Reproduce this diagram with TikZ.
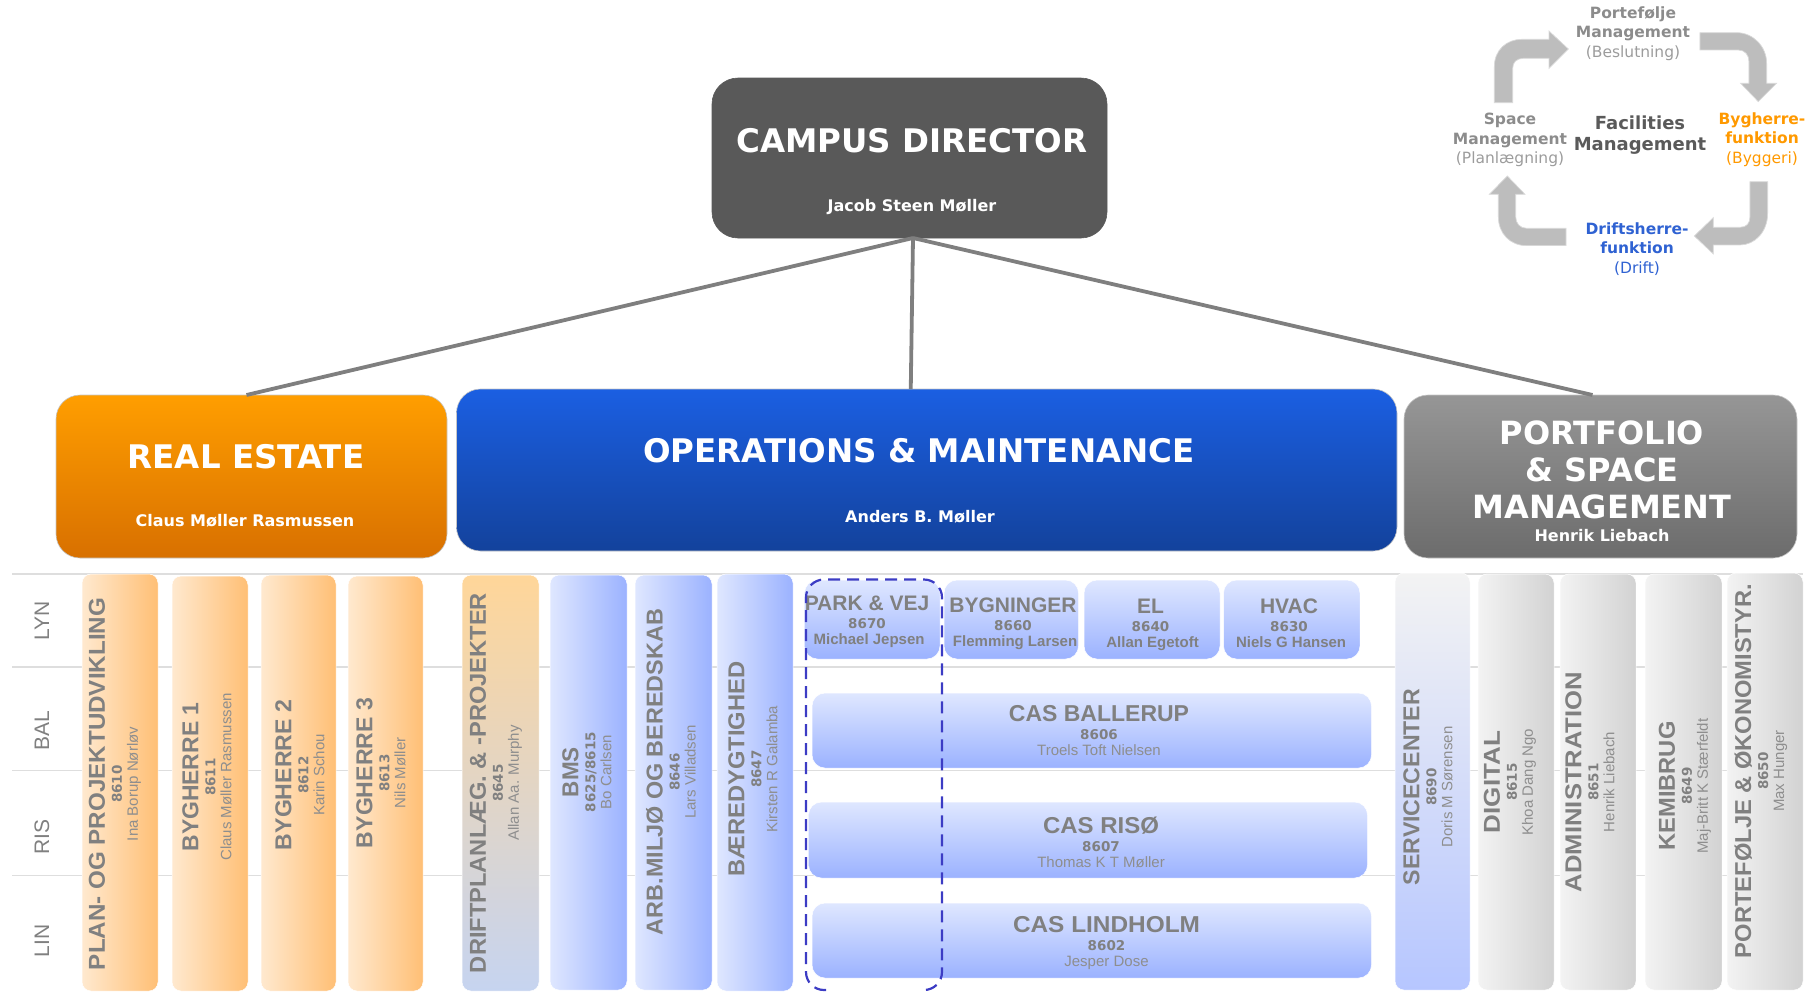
\documentclass[tikz,border=0pt]{standalone}
\usepackage{fontspec}
\usepackage{graphicx}
\usetikzlibrary{calc}
\setmainfont{Liberation Sans}
\newfontfamily\dv{DejaVu Sans}
\definecolor{txtgray}{HTML}{808080}
\definecolor{namegray}{HTML}{8E8E8E}
\definecolor{rulegray}{HTML}{DEDEDE}
\definecolor{linkgray}{HTML}{7F7F7F}
\definecolor{arrowgray}{HTML}{BDBDBD}
\definecolor{arrowedge}{HTML}{DADADA}
\definecolor{dashblue}{HTML}{3C3CC4}
\definecolor{oL}{HTML}{FFE9CF}\definecolor{oR}{HTML}{FFBF75}
\definecolor{bL}{HTML}{DFE7FF}\definecolor{bR}{HTML}{9BB2FF}
\definecolor{gL}{HTML}{F3F3F3}\definecolor{gR}{HTML}{D2D2D2}
\definecolor{orangeT}{HTML}{FF9E00}\definecolor{orangeB}{HTML}{D87000}
\definecolor{blueT}{HTML}{1B5FE2}\definecolor{blueB}{HTML}{13429C}
\definecolor{grayT}{HTML}{969696}\definecolor{grayB}{HTML}{6C6C6C}
\definecolor{campus}{HTML}{595959}
\definecolor{facil}{HTML}{5A5A5A}
\definecolor{cycgray}{HTML}{8C8C8C}
\definecolor{cycgrayl}{HTML}{9C9C9C}
\definecolor{cycorange}{HTML}{FF9900}
\definecolor{cycblue}{HTML}{2F62D2}
\definecolor{driftT}{HTML}{FFD699}
\definecolor{driftB}{HTML}{C6D4F0}
\definecolor{servM}{HTML}{E4E6F2}
\definecolor{servB}{HTML}{B6C6FF}
\tikzset{
  bigbox/.style={rectangle,rounded corners=24pt,draw=gray!45,line width=0.6pt},
  campusbox/.style={bigbox,fill=campus,draw=campus,rounded corners=26pt},
  realbox/.style={bigbox,top color=orangeT,bottom color=orangeB},
  opsbox/.style={bigbox,top color=blueT,bottom color=blueB},
  portbox/.style={bigbox,top color=grayT,bottom color=grayB},
  colbase/.style={rectangle,rounded corners=9pt,draw=white,line width=0.5pt},
  orangecol/.style={colbase,left color=oL,right color=oR},
  bluecol/.style={colbase,left color=bL,right color=bR},
  graycol/.style={colbase,left color=gL,right color=gR},
  driftcol/.style={colbase,top color=driftT,bottom color=driftB},
  servicecol/.style={colbase,top color=gL,middle color=servM,bottom color=servB},
  tilebox/.style={rectangle,rounded corners=13pt,draw=white,line width=0.5pt,top color=bL,bottom color=bR},
  link/.style={draw=linkgray,line width=3.8pt},
  tworule/.style={draw=rulegray,line width=1.6pt},
  bigtitle/.style={text=white,font=\dv\bfseries\fontsize{32.5}{37}\selectfont,align=center,inner sep=0pt},
  bigsub/.style={text=white,font=\dv\bfseries\fontsize{16}{18}\selectfont,inner sep=0pt},
  rowlabel/.style={rotate=90,text=txtgray,font=\fontsize{21}{22}\selectfont,inner sep=0pt},
  coltext/.style={rotate=90,align=center,text=txtgray,inner sep=0pt,font=\fontsize{15}{16}\selectfont},
  tiletext/.style={align=center,text=txtgray,inner sep=0pt,font=\fontsize{15}{16}\selectfont},
  cyctext/.style={align=center,inner sep=0pt,font=\dv\fontsize{15.5}{19.5}\selectfont},
  cycarrow/.style={fill=arrowgray,draw=arrowedge,line width=0.7pt},
}
\newcommand\boxnode[6]{%
  \pgfmathsetmacro\bw{#5-#3}\pgfmathsetmacro\bh{#6-#4}%
  \pgfmathsetmacro\bx{(#3+#5)/2}\pgfmathsetmacro\by{(#4+#6)/2}%
  \node[#1,minimum width=\bw pt,minimum height=\bh pt,inner sep=0pt,outer sep=0pt] (#2) at (\bx,\by) {};}
\newcommand\codefont{\dv\fontsize{13.5}{16}\selectfont\bfseries}
% name, x, y, title width, title, code, person
\newcommand\mycoltext[7]{%
  \node[coltext] (#1) at (#2,#3) {\resizebox{#4pt}{\height}{\fontsize{23}{24}\selectfont\bfseries #5}\\[1pt]%
    {\codefont #6}\\[0pt]%
    {\color{namegray}#7}};}
% name, x, y, title size, title, code, person, person style
\newcommand\mytiletext[8]{%
  \node[tiletext] (#1) at (#2,#3) {{\fontsize{#4}{#4}\selectfont\bfseries #5}\\[2pt]%
    {\codefont #6}\\[0pt]%
    {#8 #7}};}
\begin{document}
\begin{tikzpicture}[x=1pt,y=-1pt]
\useasboundingbox (0,0) rectangle (1812,991);
% rules
\draw[tworule] (12,574) -- (1803,574);
\draw[tworule] (12,667) -- (1790,667);
\draw[tworule] (12,770.5) -- (1790,770.5);
\draw[tworule] (12,875.5) -- (1790,875.5);
% main boxes and links
\boxnode{campusbox}{cd}{712}{78}{1107}{238}
\boxnode{realbox}{re}{56}{395}{447}{558}
\boxnode{opsbox}{om}{456.5}{389}{1397}{551}
\boxnode{portbox}{ps}{1404}{395}{1797}{558}
\node[bigtitle] (cdt) at (912,141) {CAMPUS DIRECTOR};
\node[bigsub] (cds) at (912,207) {Jacob Steen Møller};
\node[bigtitle] (ret) at (246,457) {REAL ESTATE};
\node[bigsub] (res) at (245,521) {Claus Møller Rasmussen};
\node[bigtitle] (omt) at (919,451) {OPERATIONS \& MAINTENANCE};
\node[bigsub] (oms) at (920,517) {Anders B. Møller};
\node[bigtitle,font=\dv\bfseries\fontsize{32}{37}\selectfont] (pst) at (1602,470) {PORTFOLIO\\\& SPACE\\MANAGEMENT};
\node[bigsub] (pss) at (1602,536) {Henrik Liebach};
\draw[link] ($(cd.south)+(3.5,0)$) -- ($(re.north)+(-5,0)$);
\draw[link] ($(cd.south)+(3.5,0)$) -- ($(om.north)+(-16,0)$);
\draw[link] ($(cd.south)+(3.5,0)$) -- ($(ps.north)+(-8,0)$);
% row labels
\node[rowlabel] (lyn) at (42,621) {LYN};
\node[rowlabel] (bal) at (42,731) {BAL};
\node[rowlabel] (ris) at (42,837) {RIS};
\node[rowlabel] (lin) at (42,941) {LIN};
% columns
\boxnode{orangecol}{c1}{82}{574}{158}{991}
\boxnode{orangecol}{c2}{172}{576}{248}{991}
\boxnode{orangecol}{c3}{261}{575}{336}{991}
\boxnode{orangecol}{c4}{348}{576}{423}{991}
\boxnode{driftcol}{c5}{462}{575}{539}{991}
\boxnode{bluecol}{c6}{550}{575}{627}{990}
\boxnode{bluecol}{c7}{635}{575}{712}{990}
\boxnode{bluecol}{c8}{717}{574}{793}{991}
\boxnode{servicecol}{c9}{1395}{573}{1470}{990}
\boxnode{graycol}{c10}{1478}{574}{1554}{990}
\boxnode{graycol}{c11}{1560}{574}{1636}{990}
\boxnode{graycol}{c12}{1645}{574}{1722}{990}
\boxnode{graycol}{c13}{1727}{573}{1803}{990}
\mycoltext{t1}{115}{784}{372}{PLAN- OG PROJEKTUDVIKLING}{8610}{Ina Borup Nørløv}
\mycoltext{t2}{207}{777}{149}{BYGHERRE 1}{8611}{Claus Møller Rasmussen}
\mycoltext{t3}{300}{775}{150}{BYGHERRE 2}{8612}{Karin Schou}
\mycoltext{t4}{381}{773}{150}{BYGHERRE 3}{8613}{Nils Møller}
\mycoltext{t5}{496}{783}{380}{DRIFTPLANLÆG. \& -PROJEKTER}{8645}{Allan Aa. Murphy}
\mycoltext{t6}{587}{772}{50}{BMS}{8625/8615}{Bo Carlsen}
\mycoltext{t7}{671}{772}{326}{ARB.MILJØ OG BEREDSKAB}{8646}{Lars Villadsen}
\mycoltext{t8}{753}{769}{215}{BÆREDYGTIGHED}{8647}{Kirsten R Galamba}
\mycoltext{t9}{1428}{787}{196}{SERVICECENTER}{8690}{Doris M Sørensen}
\mycoltext{t10}{1510}{782}{102}{DIGITAL}{8615}{Khoa Dang Ngo}
\mycoltext{t11}{1590}{782}{220}{ADMINISTRATION}{8651}{Henrik Liebach}
\mycoltext{t12}{1685}{786}{129}{KEMIBRUG}{8649}{Maj-Britt K Stærfeldt}
\mycoltext{t13}{1761}{771}{374}{PORTEFØLJE \& ØKONOMISTYR.}{8650}{Max Hunger}
% tiles
\boxnode{tilebox}{p1}{804.5}{580}{940}{659}
\boxnode{tilebox}{p2}{944}{580}{1078.5}{659}
\boxnode{tilebox}{p3}{1084}{580}{1220}{659}
\boxnode{tilebox}{p4}{1223.5}{580}{1360}{659}
\boxnode{tilebox}{cas1}{812}{693}{1371.5}{768}
\boxnode{tilebox}{cas2}{808.5}{802}{1367.5}{878}
\boxnode{tilebox}{cas3}{812}{903}{1371.5}{978}
\mytiletext{tp1}{867}{621.5}{21}{PARK \& VEJ}{8670}{Michael Jepsen}{\bfseries}
\mytiletext{tp2}{1013}{623.5}{21}{BYGNINGER}{8660}{Flemming Larsen}{\bfseries}
\mytiletext{tp3}{1150.5}{624.5}{21}{EL}{8640}{Allan Egetoft}{\bfseries}
\mytiletext{tp4}{1289}{623}{21}{HVAC}{8630}{Niels G Hansen}{\bfseries}
\mytiletext{tc1}{1099}{731}{23}{CAS BALLERUP}{8606}{Troels Toft Nielsen}{\color{namegray}}
\mytiletext{tc2}{1101}{842}{23}{\resizebox{116pt}{\height}{CAS RISØ}}{8607}{Thomas K T Møller}{\color{namegray}}
\mytiletext{tc3}{1106.5}{943}{23}{\resizebox{187pt}{\height}{CAS LINDHOLM}}{8602}{Jesper Dose}{\color{namegray}}
% dashed frame
\draw[draw=dashblue,line width=2.2pt,dash pattern=on 12pt off 7pt,rounded corners=18pt]
  (826,990) -- (806,990) -- (806,579.5) -- (942,579.5) -- (942,990) -- (922,990);
% cycle arrows
\begin{scope}[shift={(1400,0)},x=0.3333pt,y=-0.3333pt]
\draw[cycarrow] (283,308) -- (283,200) .. controls (283,150) and (320,118) .. (365,118) -- (447,118) -- (447,93) -- (505,147) -- (447,205) -- (447,175) -- (370,175) .. controls (350,175) and (338,187) .. (338,205) -- (338,308) -- cycle;
\draw[cycarrow] (900,98) -- (1010,98) .. controls (1060,98) and (1100,140) .. (1100,190) -- (1100,250) -- (1130,250) -- (1075,305) -- (1022,250) -- (1047,250) -- (1047,185) .. controls (1047,165) and (1035,150) .. (1015,150) -- (900,150) -- cycle;
\draw[cycarrow] (1103,545) -- (1103,640) .. controls (1103,695) and (1065,735) .. (1020,735) -- (940,735) -- (940,762) -- (883,708) -- (940,653) -- (940,682) -- (1020,682) .. controls (1040,682) and (1050,670) .. (1050,650) -- (1050,545) -- cycle;
\draw[cycarrow] (498,685) -- (380,685) .. controls (360,685) and (347,670) .. (347,650) -- (347,583) -- (375,583) -- (322,528) -- (268,583) -- (295,583) -- (295,650) .. controls (295,700) and (330,737) .. (380,737) -- (498,737) -- cycle;
\end{scope}
% cycle texts
\node[cyctext,text=cycgray] (cy1) at (1633,33.5) {\textbf{Portefølje}\\\textbf{Management}\\{\color{cycgrayl}(Beslutning)}};
\node[cyctext,text=cycgray] (cy2) at (1510,140) {\textbf{Space}\\\textbf{Management}\\{\color{cycgrayl}(Planlægning)}};
\node[cyctext,text=cycorange] (cy3) at (1762,139.5) {\textbf{Bygherre-}\\\textbf{funktion}\\(Byggeri)};
\node[cyctext,text=cycblue] (cy4) at (1637,249) {\textbf{Driftsherre-}\\\textbf{funktion}\\(Drift)};
\node[align=center,inner sep=0pt,text=facil,font=\dv\bfseries\fontsize{18}{21}\selectfont] (cy5) at (1640,135) {Facilities\\Management};
\end{tikzpicture}
\end{document}
